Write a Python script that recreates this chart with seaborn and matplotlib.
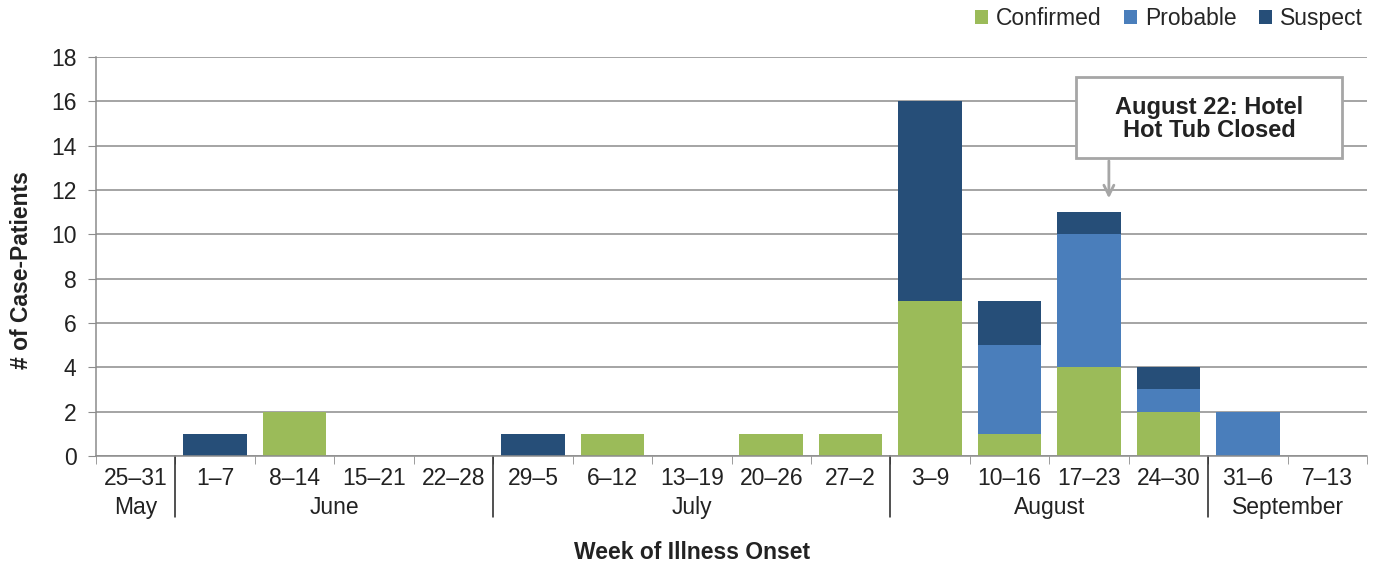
import numpy as np
import pandas as pd
import matplotlib
matplotlib.use("Agg")
import matplotlib.pyplot as plt
import matplotlib.transforms as mtransforms
from matplotlib.patches import Patch, Rectangle
import seaborn as sns

# data
weeks = ['25–31', '1–7', '8–14', '15–21', '22–28', '29–5', '6–12', '13–19',
         '20–26', '27–2', '3–9', '10–16', '17–23', '24–30', '31–6', '7–13']
confirmed = [0, 0, 2, 0, 0, 0, 1, 0, 1, 1, 7, 1, 4, 2, 0, 0]
probable = [0, 0, 0, 0, 0, 0, 0, 0, 0, 0, 0, 4, 6, 1, 2, 0]
suspect = [0, 1, 0, 0, 0, 1, 0, 0, 0, 0, 9, 2, 1, 1, 0, 0]
months = ['May', 'June', 'July', 'August', 'September']
month_start = [0, 1, 5, 10, 14]  # first week index of each month

colors = {'Confirmed': '#9BBB59', 'Probable': '#4A7EBB', 'Suspect': '#264E78'}
FS = 16.5
TXT = '#222222'

sns.set_style("white")
plt.rcParams['font.family'] = ['Liberation Sans', 'DejaVu Sans']

df = pd.DataFrame({'Week': weeks, 'Confirmed': confirmed,
                   'Probable': probable, 'Suspect': suspect})
df['base2'] = df['Confirmed'] + df['Probable']

fig = plt.figure(figsize=(13.76, 5.67), dpi=100)
ax = fig.add_axes([0.0698, 0.1958, 0.9237, 0.7037])

sns.barplot(data=df, x='Week', y='Confirmed', color=colors['Confirmed'],
            width=0.8, ax=ax, saturation=1, order=weeks, linewidth=0)
sns.barplot(data=df, x='Week', y='Probable', color=colors['Probable'],
            width=0.8, ax=ax, saturation=1, order=weeks, linewidth=0,
            bottom=df['Confirmed'])
sns.barplot(data=df, x='Week', y='Suspect', color=colors['Suspect'],
            width=0.8, ax=ax, saturation=1, order=weeks, linewidth=0,
            bottom=df['base2'])

ax.set_xlim(-0.5, len(weeks) - 0.5)
ax.set_ylim(0, 18)
ax.set_yticks(np.arange(0, 19, 2))
ax.yaxis.grid(True, color='#8c8c8c', linewidth=1.1)
ax.set_axisbelow(True)
for s in ['top', 'right']:
    ax.spines[s].set_visible(False)
for s in ['left', 'bottom']:
    ax.spines[s].set_color('#8c8c8c')
    ax.spines[s].set_linewidth(1.1)

ax.tick_params(axis='y', left=True, length=6, color='#8c8c8c', labelsize=FS,
               labelcolor=TXT, pad=8)
ax.set_xticks(np.arange(len(weeks)))
ax.set_xticklabels(weeks)
ax.set_xticks(np.arange(-0.5, len(weeks)), minor=True)
ax.tick_params(axis='x', which='major', length=0, labelsize=FS,
               labelcolor=TXT, pad=8)
ax.tick_params(axis='x', which='minor', bottom=True, length=6, color='#8c8c8c')

# month separators and labels
trans = mtransforms.blended_transform_factory(ax.transData, ax.transAxes)
for b in month_start[1:]:
    ax.plot([b - 0.5, b - 0.5], [0, -0.153], color=TXT, lw=1.1,
            transform=trans, clip_on=False)
ends = month_start[1:] + [len(weeks)]
for m, s, e in zip(months, month_start, ends):
    ax.text((s + e - 1) / 2, -0.13, m, transform=trans, ha='center',
            va='center', fontsize=FS, color=TXT)

ax.set_xlabel('')
ax.set_ylabel('')
fig.text(0.503, 0.026, 'Week of Illness Onset', ha='center', va='center',
         fontsize=FS, fontweight='bold', color=TXT)
fig.text(0.0155, 0.524, '# of Case-Patients', ha='center', va='center',
         rotation=90, fontsize=FS, fontweight='bold', color=TXT)

# annotation box
box = Rectangle((11.83, 13.44), 3.36, 3.66, facecolor='white',
                edgecolor='#a6a6a6', linewidth=2, zorder=5)
ax.add_patch(box)
ax.text(13.51, 15.2, 'August 22: Hotel\nHot Tub Closed', ha='center',
        va='center', fontsize=FS + 0.5, fontweight='bold', color=TXT,
        zorder=6, linespacing=1.05)
ax.annotate('', xy=(12.25, 11.5), xytext=(12.25, 13.44),
            arrowprops=dict(arrowstyle='->', color='#a6a6a6', lw=2,
                            mutation_scale=18), zorder=5)

handles = [Patch(facecolor=colors[k], edgecolor='none', label=k)
           for k in ['Confirmed', 'Probable', 'Suspect']]
ax.legend(handles=handles, loc='lower right', bbox_to_anchor=(1.004, 1.045),
          ncol=3, frameon=False, fontsize=FS, handlelength=0.55,
          handleheight=0.55, handletextpad=0.35, columnspacing=1.0,
          borderaxespad=0)

fig.savefig('out.png', dpi=100)
